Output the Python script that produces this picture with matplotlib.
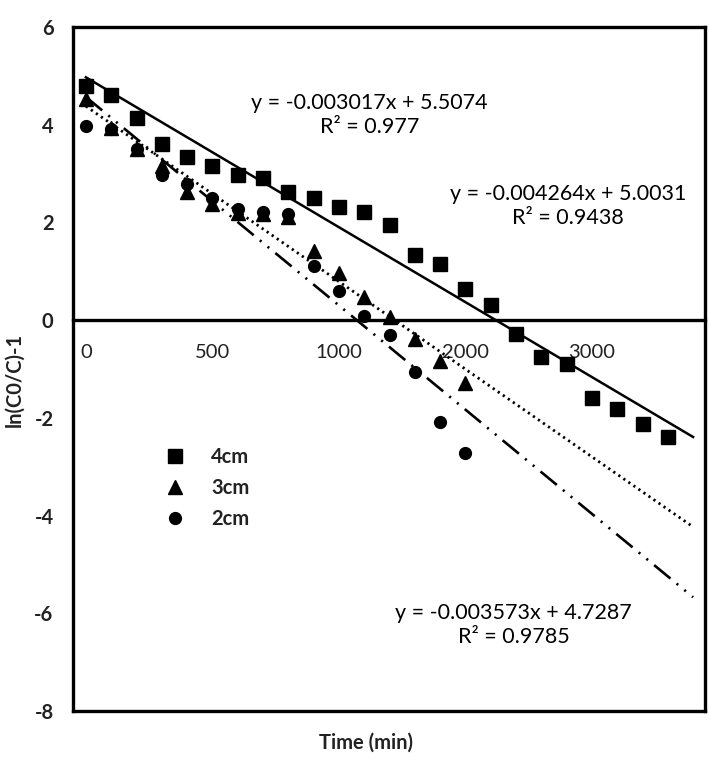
import numpy as np
import matplotlib
matplotlib.use("Agg")
import matplotlib.pyplot as plt

plt.rcParams['font.family'] = ['Lato', 'DejaVu Sans']
plt.rcParams['axes.unicode_minus'] = False

# sample positions (evenly spaced on the chart)
x_4cm = np.arange(24) * 100
x_3cm = np.arange(16) * 100
x_2cm = np.arange(16) * 100

y_4cm = [4.79, 4.61, 4.13, 3.61, 3.33, 3.16, 2.97, 2.90, 2.62, 2.49, 2.31, 2.21,
         1.95, 1.33, 1.14, 0.63, 0.30, -0.28, -0.75, -0.89, -1.60, -1.81, -2.13, -2.40]
y_3cm = [4.52, 3.93, 3.50, 3.15, 2.62, 2.37, 2.20, 2.18, 2.12, 1.41, 0.96, 0.48,
         0.06, -0.38, -0.84, -1.28]
y_2cm = [3.98, 3.91, 3.50, 2.97, 2.78, 2.49, 2.28, 2.21, 2.17, 1.11, 0.59, 0.08,
         -0.31, -1.07, -2.09, -2.71]

xtick_pos = [0, 500, 1000, 1500, 2000]
xtick_labels = ['0', '500', '1000', '2000', '3000']
yticks = [-8, -6, -4, -2, 0, 2, 4, 6]

eq_4cm = "y = -0.003017x + 5.5074\nR² = 0.977"
eq_3cm = "y = -0.004264x + 5.0031\nR² = 0.9438"
eq_2cm = "y = -0.003573x + 4.7287\nR² = 0.9785"

fig = plt.figure(figsize=(7.09, 7.76), dpi=100)
ax = fig.add_axes([73/709, 1-711/776, (705-73)/709, (711-27)/776])

ax.plot(x_4cm, y_4cm, 's', color='black', markersize=9.5, label='4cm', zorder=3)
ax.plot(x_3cm, y_3cm, '^', color='black', markersize=9.5, label='3cm', zorder=3)
ax.plot(x_2cm, y_2cm, 'o', color='black', markersize=8.5, label='2cm', zorder=3)

# linear trendlines, extended forward
xf = np.array([0, 2400])
p4 = np.polyfit(x_4cm, y_4cm, 1)
p3 = np.polyfit(x_3cm, y_3cm, 1)
p2 = np.polyfit(x_2cm, y_2cm, 1)
ax.plot(xf, np.polyval(p4, xf), '-', color='black', lw=1.8)
ax.plot(xf, np.polyval(p3, xf), color='black', lw=2.0, linestyle=(0, (0.8, 1.4)))
ax.plot(xf, np.polyval(p2, xf), color='black', lw=1.9,
        linestyle=(0, (8, 3, 0.8, 3, 0.8, 3)))

ax.text(1120, 4.2, eq_4cm, ha='center', va='center', fontsize=15.5, linespacing=1.25)
ax.text(1905, 2.33, eq_3cm, ha='center', va='center', fontsize=15.5, linespacing=1.25)
ax.text(1690, -6.24, eq_2cm, ha='center', va='center', fontsize=15.5, linespacing=1.25)

ax.set_xlim(-51, 2447)
ax.set_ylim(-8, 6)
ax.set_xticks(xtick_pos)
ax.set_xticklabels(xtick_labels)
ax.set_yticks(yticks)
ax.tick_params(axis='both', length=0, labelsize=14.5, colors='#222222')
ax.tick_params(axis='x', pad=17)
ax.tick_params(axis='y', pad=14)
for lab in ax.get_xticklabels() + ax.get_yticklabels():
    lab.set_fontweight('bold')

# zero line carries the x axis, box drawn around the plot
ax.spines['bottom'].set_position(('data', 0))
for s in ax.spines.values():
    s.set_linewidth(2.4)
ax.plot([0, 1], [0, 0], transform=ax.transAxes, color='black', lw=2.4,
        clip_on=False, solid_capstyle='projecting')

fig.text(366/709, 1-743/776, 'Time (min)', ha='center', va='center',
         fontsize=14.5, fontweight='bold', color='#222222')
fig.text(14/709, 1-380/776, 'ln(C0/C)-1', ha='center', va='center', rotation=90,
         fontsize=14.5, fontweight='bold', color='#222222')

leg = ax.legend(loc='center left', bbox_to_anchor=(155/709, 1-488/776),
                bbox_transform=fig.transFigure, frameon=False, handlelength=1.0,
                handletextpad=1.3, labelspacing=0.55, borderpad=0,
                prop={'size': 14.5, 'weight': 'bold'})
for t in leg.get_texts():
    t.set_color('#222222')

fig.savefig('out.png', dpi=100)
